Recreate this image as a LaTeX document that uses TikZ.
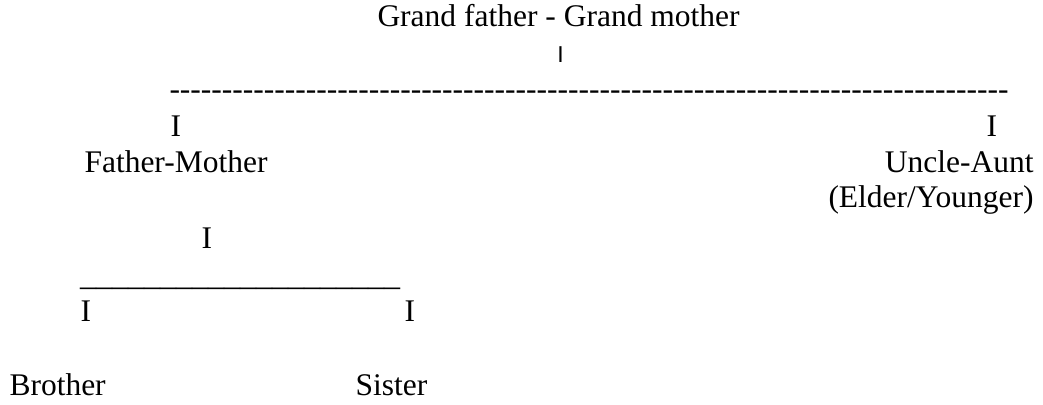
\documentclass[tikz,border=0pt]{standalone}
\usepackage{fontspec}
\setmainfont{Liberation Serif}
\newfontfamily\barfont{Liberation Sans}
% single hyphens in boxes, so that no dash ligature is formed
\def\hy{\hbox{-}}
\def\hyten{\hy\hy\hy\hy\hy\hy\hy\hy\hy\hy}
\def\usten{\_\_\_\_\_\_\_\_\_\_}
\tikzset{
  lbl/.style={inner sep=0pt, outer sep=0pt, anchor=base west,
    font=\fontsize{31.5}{36}\selectfont},
  lblr/.style={lbl, anchor=base east},
  tick/.style={inner sep=0pt, outer sep=0pt, anchor=base,
    font=\barfont\fontsize{23}{26}\selectfont}
}
\begin{document}
\begin{tikzpicture}[x=1pt, y=-1pt]
  \useasboundingbox (0,0) rectangle (1043,404);
  % grandparents
  \node[lbl] (gp) at (377.5,27) {Grand father - Grand mother};
  \node[tick] (gpbar) at (560.5,63) {I};
  \node[lbl] (row) at (169.5,99) {\hyten\hyten\hyten\hyten\hyten\hyten\hyten\hyten};
  \node[lbl] (ltick) at (170.5,136) {I};
  \node[lbl] (rtick) at (986.5,136) {I};
  % parents and uncle/aunt
  \node[lbl] (fm) at (84.5,172) {Father-Mother};
  \node[lblr] (ua) at (1033.5,172) {Uncle-Aunt};
  \node[lblr] (ey) at (1033.5,207) {(Elder/Younger)};
  % children
  \node[lbl] (fmtick) at (201.5,248) {I};
  \node[lbl, font=\fontsize{32}{36}\selectfont] (under) at (80,285) {\usten\usten};
  \node[lbl] (btick) at (80.5,321) {I};
  \node[lbl] (stick) at (404.5,321) {I};
  \node[lbl] (bro) at (9.5,395) {Brother};
  \node[lbl] (sis) at (355.5,395) {Sister};
\end{tikzpicture}
\end{document}
